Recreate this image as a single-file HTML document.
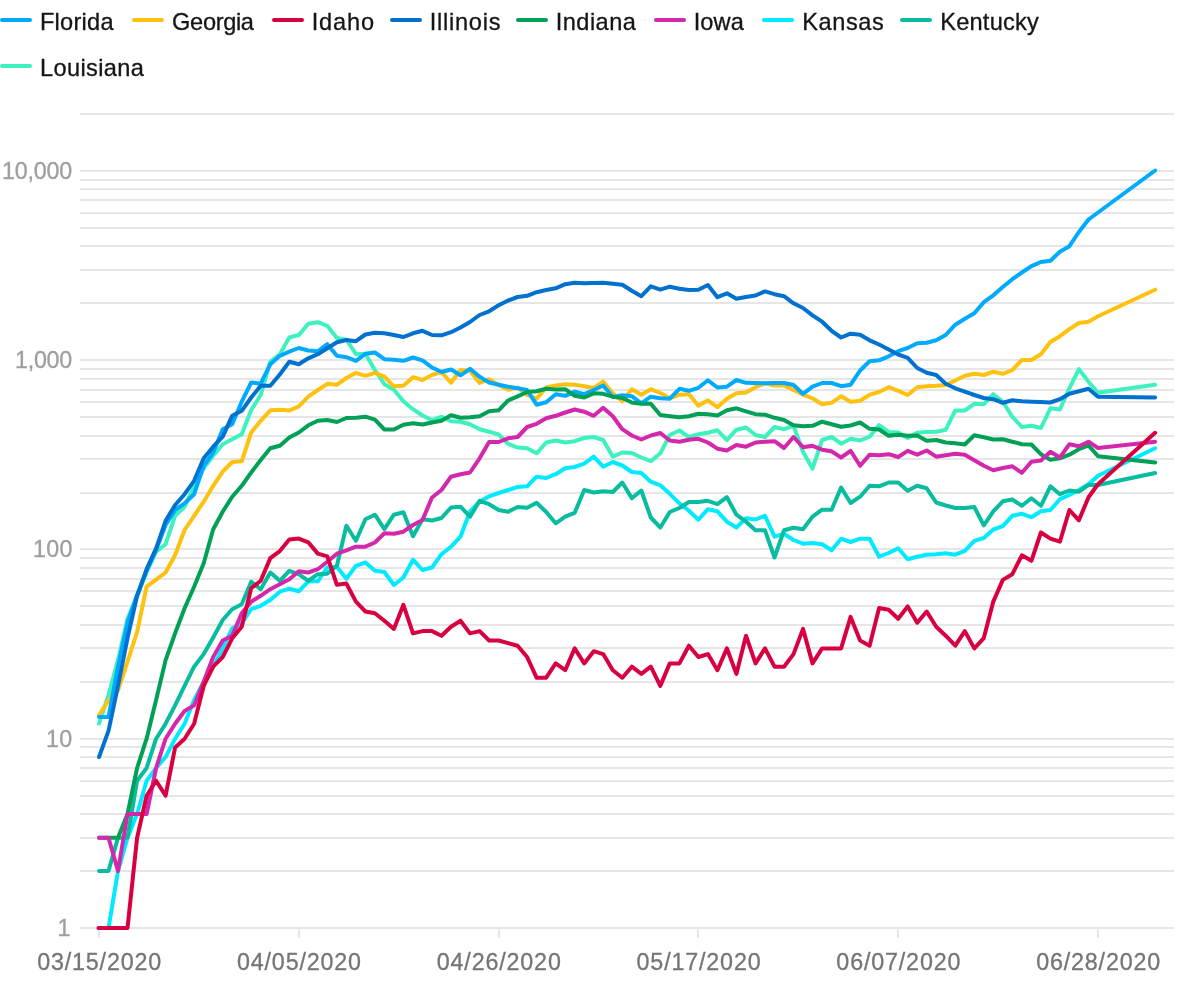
<!DOCTYPE html>
<html><head><meta charset="utf-8"><title>Chart</title>
<style>
html,body{margin:0;padding:0;background:#fff;}
body{width:1200px;height:990px;overflow:hidden;position:relative;font-family:"Liberation Sans",sans-serif;}
svg{position:absolute;left:0;top:0;display:block}
.lg{font-size:23.6px;fill:#151515;stroke:#151515;stroke-width:.3px}
.yl{font-size:23.3px;fill:#9E9E9E;stroke:#9E9E9E;stroke-width:.3px}
.xl{font-size:23.3px;fill:#757575;stroke:#757575;stroke-width:.3px}
.g line{stroke:#E6E6E6;stroke-width:2}
.s polyline{fill:none;stroke-width:4;stroke-linejoin:round;stroke-linecap:round}
.sw line{stroke-width:4;stroke-linecap:round}
</style></head><body>
<svg width="1200" height="990" viewBox="0 0 1200 990">
<g class="g">
<line x1="80" x2="1174" y1="114" y2="114"/>
<line x1="80" x2="1174" y1="171" y2="171"/>
<line x1="80" x2="1174" y1="180" y2="180"/>
<line x1="80" x2="1174" y1="189" y2="189"/>
<line x1="80" x2="1174" y1="200" y2="200"/>
<line x1="80" x2="1174" y1="213" y2="213"/>
<line x1="80" x2="1174" y1="228" y2="228"/>
<line x1="80" x2="1174" y1="246" y2="246"/>
<line x1="80" x2="1174" y1="270" y2="270"/>
<line x1="80" x2="1174" y1="303" y2="303"/>
<line x1="80" x2="1174" y1="360" y2="360"/>
<line x1="80" x2="1174" y1="369" y2="369"/>
<line x1="80" x2="1174" y1="379" y2="379"/>
<line x1="80" x2="1174" y1="390" y2="390"/>
<line x1="80" x2="1174" y1="402" y2="402"/>
<line x1="80" x2="1174" y1="417" y2="417"/>
<line x1="80" x2="1174" y1="436" y2="436"/>
<line x1="80" x2="1174" y1="459" y2="459"/>
<line x1="80" x2="1174" y1="493" y2="493"/>
<line x1="80" x2="1174" y1="549" y2="549"/>
<line x1="80" x2="1174" y1="558" y2="558"/>
<line x1="80" x2="1174" y1="568" y2="568"/>
<line x1="80" x2="1174" y1="579" y2="579"/>
<line x1="80" x2="1174" y1="591" y2="591"/>
<line x1="80" x2="1174" y1="606" y2="606"/>
<line x1="80" x2="1174" y1="625" y2="625"/>
<line x1="80" x2="1174" y1="648" y2="648"/>
<line x1="80" x2="1174" y1="682" y2="682"/>
<line x1="80" x2="1174" y1="739" y2="739"/>
<line x1="80" x2="1174" y1="747" y2="747"/>
<line x1="80" x2="1174" y1="757" y2="757"/>
<line x1="80" x2="1174" y1="768" y2="768"/>
<line x1="80" x2="1174" y1="781" y2="781"/>
<line x1="80" x2="1174" y1="796" y2="796"/>
<line x1="80" x2="1174" y1="814" y2="814"/>
<line x1="80" x2="1174" y1="838" y2="838"/>
<line x1="80" x2="1174" y1="871" y2="871"/>
<line x1="80" x2="1174" y1="928" y2="928"/>
<line x1="99" x2="99" y1="928" y2="938"/>
<line x1="299" x2="299" y1="928" y2="938"/>
<line x1="499" x2="499" y1="928" y2="938"/>
<line x1="698" x2="698" y1="928" y2="938"/>
<line x1="898" x2="898" y1="928" y2="938"/>
<line x1="1098" x2="1098" y1="928" y2="938"/>
</g>
<text class="yl" x="2.0" y="179" textLength="70.27">10,000</text>
<text class="yl" x="14.95" y="368" textLength="57.36">1,000</text>
<text class="yl" x="33.05" y="557" textLength="39.33">100</text>
<text class="yl" x="45.95" y="747" textLength="26.27">10</text>
<text class="yl" x="57.62" y="936">1</text>
<text class="xl" x="37.15" y="970" textLength="124.11">03/15/2020</text>
<text class="xl" x="236.95" y="970" textLength="124.11">04/05/2020</text>
<text class="xl" x="436.75" y="970" textLength="124.11">04/26/2020</text>
<text class="xl" x="636.55" y="970" textLength="124.11">05/17/2020</text>
<text class="xl" x="836.35" y="970" textLength="124.11">06/07/2020</text>
<text class="xl" x="1036.15" y="970" textLength="124.11">06/28/2020</text>
<g class="s">
<polyline stroke="#3DF2BE" points="99.0,723.7 108.5,695.1 118.0,660.1 127.5,618.8 137.1,596.0 146.6,572.0 156.1,551.7 165.6,544.2 175.1,515.8 184.6,506.7 194.1,486.7 203.7,468.3 213.2,455.8 222.7,444.2 232.2,439.2 241.7,434.2 251.2,410.0 260.7,395.0 270.3,361.7 279.8,354.2 289.3,337.5 298.8,335.0 308.3,323.8 317.8,322.2 327.3,325.8 336.9,338.0 346.4,339.7 355.9,354.2 365.4,353.7 374.9,370.0 384.4,384.2 393.9,389.7 403.4,401.3 413.0,409.2 422.5,415.5 432.0,420.3 441.5,416.7 451.0,421.3 460.5,421.7 470.0,424.2 479.6,429.2 489.1,431.7 498.6,434.5 508.1,443.8 517.6,447.5 527.1,448.3 536.6,453.3 546.2,442.5 555.7,440.5 565.2,442.5 574.7,441.2 584.2,438.0 593.7,437.0 603.2,440.0 612.8,456.7 622.3,452.5 631.8,453.0 641.3,457.5 650.8,461.2 660.3,453.3 669.8,435.0 679.4,430.5 688.9,437.0 698.4,434.2 707.9,432.8 717.4,430.3 726.9,440.0 736.4,429.7 746.0,427.5 755.5,435.0 765.0,437.0 774.5,427.0 784.0,429.2 793.5,425.8 803.0,451.7 812.5,468.7 822.1,440.0 831.6,437.0 841.1,443.7 850.6,438.7 860.1,440.5 869.6,436.7 879.1,425.0 888.7,432.0 898.2,432.5 907.7,438.0 917.2,432.8 926.7,432.0 936.2,431.7 945.7,429.7 955.3,410.5 964.8,410.5 974.3,403.8 983.8,404.2 993.3,394.2 1002.8,401.7 1012.3,416.7 1021.9,427.0 1031.4,425.8 1040.9,428.0 1050.4,408.3 1059.9,409.5 1069.4,388.3 1078.9,369.2 1088.5,381.7 1098.0,392.8 1155.1,384.7"/>
<polyline stroke="#00EBFF" points="108.5,928.0 118.0,871.0 127.5,837.7 137.1,814.0 146.6,780.7 156.1,768.0 165.6,757.0 175.1,738.7 184.6,723.7 194.1,700.1 203.7,681.7 213.2,666.7 222.7,648.4 232.2,628.3 241.7,623.3 251.2,609.2 260.7,605.8 270.3,600.0 279.8,591.7 289.3,588.7 298.8,591.3 308.3,581.3 317.8,581.3 327.3,567.5 336.9,566.7 346.4,578.7 355.9,565.8 365.4,562.5 374.9,570.8 384.4,572.0 393.9,585.0 403.4,577.5 413.0,559.7 422.5,570.0 432.0,567.5 441.5,554.2 451.0,546.7 460.5,536.7 470.0,511.3 479.6,501.7 489.1,496.3 498.6,493.0 508.1,490.0 517.6,487.0 527.1,486.3 536.6,476.7 546.2,478.0 555.7,474.2 565.2,468.3 574.7,467.0 584.2,463.7 593.7,456.7 603.2,466.7 612.8,462.0 622.3,465.5 631.8,472.0 641.3,473.0 650.8,481.7 660.3,485.3 669.8,493.8 679.4,503.3 688.9,510.8 698.4,519.7 707.9,509.2 717.4,511.3 726.9,521.7 736.4,527.5 746.0,518.3 755.5,519.5 765.0,515.8 774.5,536.7 784.0,533.8 793.5,540.0 803.0,543.7 812.5,543.0 822.1,544.2 831.6,550.3 841.1,538.7 850.6,542.0 860.1,538.7 869.6,538.7 879.1,556.7 888.7,553.0 898.2,548.3 907.7,559.2 917.2,556.7 926.7,554.7 936.2,554.2 945.7,553.3 955.3,554.7 964.8,550.8 974.3,540.8 983.8,538.0 993.3,529.5 1002.8,526.2 1012.3,515.8 1021.9,513.8 1031.4,517.2 1040.9,511.3 1050.4,510.0 1059.9,499.2 1069.4,495.0 1078.9,490.0 1088.5,484.2 1098.0,475.8 1155.1,448.3"/>
<polyline stroke="#08BCA0" points="99.0,871.0 108.5,871.0 118.0,837.7 127.5,837.7 137.1,780.7 146.6,768.0 156.1,738.7 165.6,723.7 175.1,705.4 184.6,685.9 194.1,666.7 203.7,654.1 213.2,637.5 222.7,620.0 232.2,609.2 241.7,604.2 251.2,581.7 260.7,589.2 270.3,572.5 279.8,580.8 289.3,570.8 298.8,574.2 308.3,580.8 317.8,574.2 327.3,573.7 336.9,565.8 346.4,525.8 355.9,540.8 365.4,519.2 374.9,514.7 384.4,529.2 393.9,514.7 403.4,512.2 413.0,536.3 422.5,519.2 432.0,520.5 441.5,518.0 451.0,507.5 460.5,506.7 470.0,516.7 479.6,500.8 489.1,504.2 498.6,510.0 508.1,511.7 517.6,507.0 527.1,507.8 536.6,502.8 546.2,512.0 555.7,523.3 565.2,516.7 574.7,512.8 584.2,490.0 593.7,492.5 603.2,491.2 612.8,492.0 622.3,482.5 631.8,498.3 641.3,490.5 650.8,517.5 660.3,527.5 669.8,512.0 679.4,508.0 688.9,502.0 698.4,502.0 707.9,500.8 717.4,504.2 726.9,497.2 736.4,514.7 746.0,521.7 755.5,530.3 765.0,530.3 774.5,557.5 784.0,530.3 793.5,527.8 803.0,529.2 812.5,516.7 822.1,509.7 831.6,509.7 841.1,487.5 850.6,503.0 860.1,496.7 869.6,485.8 879.1,486.3 888.7,482.5 898.2,482.5 907.7,490.8 917.2,485.8 926.7,488.3 936.2,502.5 945.7,505.5 955.3,508.0 964.8,508.0 974.3,507.0 983.8,525.3 993.3,511.3 1002.8,501.3 1012.3,499.5 1021.9,505.8 1031.4,498.3 1040.9,505.8 1050.4,486.3 1059.9,494.2 1069.4,490.5 1078.9,491.7 1088.5,485.0 1098.0,485.0 1155.1,473.0"/>
<polyline stroke="#FFC10F" points="99.0,715.3 108.5,700.1 118.0,690.4 127.5,661.7 137.1,632.0 146.6,586.7 156.1,579.6 165.6,572.5 175.1,555.0 184.6,530.0 194.1,515.8 203.7,501.7 213.2,485.8 222.7,471.7 232.2,462.0 241.7,461.3 251.2,432.5 260.7,420.8 270.3,410.3 279.8,409.7 289.3,410.5 298.8,406.3 308.3,396.7 317.8,390.0 327.3,383.8 336.9,384.7 346.4,378.0 355.9,372.8 365.4,375.8 374.9,372.8 384.4,376.7 393.9,386.3 403.4,385.8 413.0,377.2 422.5,380.0 432.0,375.0 441.5,372.0 451.0,382.8 460.5,370.0 470.0,370.8 479.6,383.0 489.1,379.2 498.6,385.0 508.1,389.7 517.6,387.5 527.1,395.0 536.6,398.7 546.2,387.5 555.7,385.5 565.2,384.2 574.7,384.7 584.2,386.2 593.7,388.0 603.2,381.7 612.8,393.3 622.3,401.3 631.8,389.2 641.3,394.7 650.8,389.2 660.3,393.0 669.8,398.3 679.4,394.7 688.9,394.2 698.4,405.8 707.9,400.3 717.4,407.2 726.9,398.8 736.4,393.3 746.0,392.5 755.5,387.2 765.0,383.3 774.5,385.5 784.0,385.5 793.5,390.0 803.0,394.7 812.5,398.3 822.1,404.2 831.6,402.8 841.1,396.2 850.6,401.7 860.1,400.8 869.6,394.7 879.1,392.0 888.7,387.2 898.2,390.8 907.7,395.0 917.2,387.2 926.7,386.2 936.2,385.8 945.7,385.0 955.3,380.5 964.8,375.8 974.3,373.8 983.8,375.0 993.3,371.7 1002.8,373.8 1012.3,370.0 1021.9,360.0 1031.4,360.0 1040.9,354.2 1050.4,342.0 1059.9,336.2 1069.4,329.2 1078.9,323.0 1088.5,321.7 1098.0,316.3 1155.1,289.7"/>
<polyline stroke="#00AAFF" points="99.0,717.1 108.5,717.1 118.0,666.7 127.5,622.7 137.1,595.0 146.6,571.0 156.1,550.0 165.6,525.0 175.1,510.0 184.6,503.3 194.1,494.2 203.7,465.8 213.2,452.5 222.7,429.2 232.2,424.2 241.7,401.7 251.2,382.5 260.7,383.7 270.3,364.2 279.8,355.8 289.3,351.7 298.8,348.0 308.3,350.5 317.8,351.3 327.3,344.2 336.9,355.8 346.4,357.2 355.9,360.8 365.4,353.8 374.9,352.5 384.4,359.2 393.9,359.7 403.4,360.8 413.0,357.5 422.5,360.3 432.0,367.5 441.5,372.0 451.0,369.5 460.5,375.3 470.0,368.8 479.6,376.7 489.1,382.5 498.6,384.7 508.1,386.7 517.6,388.3 527.1,390.0 536.6,404.7 546.2,402.2 555.7,394.2 565.2,395.8 574.7,391.7 584.2,394.2 593.7,390.0 603.2,385.5 612.8,397.0 622.3,395.3 631.8,396.2 641.3,403.3 650.8,396.7 660.3,398.3 669.8,398.7 679.4,388.8 688.9,390.8 698.4,387.8 707.9,380.3 717.4,387.5 726.9,386.7 736.4,380.0 746.0,382.8 755.5,383.0 765.0,383.3 774.5,383.0 784.0,383.0 793.5,385.0 803.0,393.8 812.5,386.7 822.1,383.0 831.6,383.0 841.1,386.2 850.6,384.7 860.1,370.5 869.6,361.3 879.1,360.3 888.7,356.3 898.2,351.2 907.7,348.0 917.2,343.3 926.7,342.8 936.2,340.3 945.7,335.0 955.3,324.7 964.8,318.7 974.3,313.3 983.8,302.2 993.3,295.3 1002.8,287.0 1012.3,279.2 1021.9,272.5 1031.4,266.2 1040.9,262.0 1050.4,260.8 1059.9,251.7 1069.4,246.2 1078.9,232.0 1088.5,219.5 1155.1,170.5"/>
<polyline stroke="#0071CF" points="99.0,757.0 108.5,730.9 118.0,685.9 127.5,638.1 137.1,595.8 146.6,569.2 156.1,548.3 165.6,520.8 175.1,505.0 184.6,494.2 194.1,480.8 203.7,458.3 213.2,446.7 222.7,436.7 232.2,415.8 241.7,410.8 251.2,397.5 260.7,385.8 270.3,385.8 279.8,374.5 289.3,361.7 298.8,364.2 308.3,358.3 317.8,354.2 327.3,348.3 336.9,342.2 346.4,340.0 355.9,341.2 365.4,334.5 374.9,332.8 384.4,333.3 393.9,335.0 403.4,337.0 413.0,333.3 422.5,330.8 432.0,335.0 441.5,335.3 451.0,332.2 460.5,327.5 470.0,322.0 479.6,315.0 489.1,311.3 498.6,305.3 508.1,300.5 517.6,297.0 527.1,295.8 536.6,292.2 546.2,290.0 555.7,288.3 565.2,284.2 574.7,282.8 584.2,283.3 593.7,283.0 603.2,282.7 612.8,283.8 622.3,284.7 631.8,290.8 641.3,296.2 650.8,286.3 660.3,289.7 669.8,286.7 679.4,288.8 688.9,290.0 698.4,289.7 707.9,285.0 717.4,297.2 726.9,293.3 736.4,298.8 746.0,297.0 755.5,295.5 765.0,291.3 774.5,294.2 784.0,296.2 793.5,303.3 803.0,308.0 812.5,315.3 822.1,321.7 831.6,330.8 841.1,337.5 850.6,333.7 860.1,334.7 869.6,340.3 879.1,344.5 888.7,349.5 898.2,354.5 907.7,357.8 917.2,368.0 926.7,372.8 936.2,375.0 945.7,383.8 955.3,388.3 964.8,391.7 974.3,395.0 983.8,398.0 993.3,399.2 1002.8,402.8 1012.3,400.3 1021.9,401.3 1031.4,401.7 1040.9,402.0 1050.4,402.5 1059.9,399.2 1069.4,393.8 1078.9,391.3 1088.5,388.8 1098.0,396.7 1155.1,397.5"/>
<polyline stroke="#00A056" points="99.0,837.7 108.5,837.7 118.0,837.7 127.5,814.0 137.1,768.0 146.6,738.7 156.1,700.1 165.6,660.1 175.1,633.3 184.6,608.3 194.1,586.7 203.7,563.3 213.2,529.2 222.7,511.7 232.2,496.7 241.7,485.8 251.2,472.5 260.7,460.0 270.3,448.3 279.8,445.8 289.3,437.5 298.8,432.5 308.3,425.3 317.8,420.8 327.3,420.0 336.9,422.0 346.4,418.0 355.9,417.8 365.4,416.7 374.9,419.7 384.4,429.5 393.9,429.5 403.4,424.7 413.0,423.3 422.5,424.5 432.0,422.5 441.5,420.8 451.0,415.3 460.5,417.8 470.0,417.2 479.6,416.3 489.1,411.3 498.6,410.3 508.1,400.5 517.6,396.3 527.1,392.0 536.6,391.2 546.2,388.7 555.7,389.5 565.2,389.2 574.7,395.8 584.2,397.5 593.7,393.3 603.2,393.8 612.8,396.7 622.3,398.0 631.8,402.5 641.3,403.8 650.8,403.7 660.3,415.0 669.8,416.2 679.4,417.2 688.9,416.2 698.4,413.7 707.9,414.2 717.4,415.5 726.9,410.3 736.4,408.3 746.0,411.3 755.5,414.2 765.0,414.7 774.5,417.8 784.0,420.0 793.5,425.3 803.0,426.3 812.5,425.8 822.1,421.7 831.6,424.2 841.1,426.7 850.6,425.5 860.1,422.5 869.6,428.8 879.1,429.5 888.7,435.8 898.2,434.7 907.7,435.8 917.2,435.5 926.7,440.8 936.2,440.0 945.7,442.5 955.3,443.3 964.8,444.5 974.3,435.3 983.8,437.2 993.3,439.5 1002.8,439.2 1012.3,441.7 1021.9,444.2 1031.4,444.5 1040.9,454.2 1050.4,459.7 1059.9,458.3 1069.4,454.7 1078.9,449.2 1088.5,445.5 1098.0,456.2 1155.1,462.5"/>
<polyline stroke="#D428AC" points="99.0,837.7 108.5,837.7 118.0,871.0 127.5,814.0 137.1,814.0 146.6,814.0 156.1,768.0 165.6,738.7 175.1,723.7 184.6,711.0 194.1,705.4 203.7,681.7 213.2,657.0 222.7,640.5 232.2,635.8 241.7,613.3 251.2,601.7 260.7,595.8 270.3,589.2 279.8,584.2 289.3,579.2 298.8,571.3 308.3,572.5 317.8,569.2 327.3,561.7 336.9,553.7 346.4,550.3 355.9,546.7 365.4,546.7 374.9,542.5 384.4,533.3 393.9,533.7 403.4,531.7 413.0,525.0 422.5,520.0 432.0,497.5 441.5,490.0 451.0,476.7 460.5,474.2 470.0,472.5 479.6,458.3 489.1,442.0 498.6,442.0 508.1,438.3 517.6,437.0 527.1,427.0 536.6,423.8 546.2,418.3 555.7,415.8 565.2,412.5 574.7,409.5 584.2,411.7 593.7,415.8 603.2,407.8 612.8,416.2 622.3,429.2 631.8,435.5 641.3,439.5 650.8,435.5 660.3,433.0 669.8,440.5 679.4,441.7 688.9,439.7 698.4,438.8 707.9,442.5 717.4,448.7 726.9,450.5 736.4,445.0 746.0,446.7 755.5,442.5 765.0,441.7 774.5,441.2 784.0,448.0 793.5,437.0 803.0,447.2 812.5,445.8 822.1,449.7 831.6,451.3 841.1,457.5 850.6,450.8 860.1,465.8 869.6,454.7 879.1,455.3 888.7,454.2 898.2,457.0 907.7,450.8 917.2,454.7 926.7,450.5 936.2,456.7 945.7,455.3 955.3,453.7 964.8,454.7 974.3,460.3 983.8,465.8 993.3,470.3 1002.8,468.0 1012.3,466.3 1021.9,472.8 1031.4,461.7 1040.9,460.5 1050.4,451.7 1059.9,457.5 1069.4,444.2 1078.9,446.3 1088.5,441.7 1098.0,448.0 1155.1,441.7"/>
<circle cx="98.4" cy="928" r="2" fill="#A42BB4"/>
<polyline stroke="#D80041" points="99.0,928.0 108.5,928.0 118.0,928.0 127.5,928.0 137.1,837.7 146.6,795.7 156.1,780.7 165.6,795.7 175.1,747.4 184.6,738.7 194.1,723.7 203.7,685.9 213.2,666.7 222.7,657.0 232.2,638.3 241.7,626.7 251.2,588.3 260.7,580.8 270.3,558.1 279.8,551.1 289.3,539.4 298.8,538.6 308.3,542.3 317.8,553.6 327.3,556.3 336.9,584.8 346.4,583.6 355.9,601.6 365.4,611.5 374.9,613.2 384.4,620.7 393.9,628.9 403.4,604.8 413.0,633.4 422.5,631.1 432.0,631.1 441.5,635.7 451.0,626.8 460.5,620.7 470.0,633.4 479.6,631.1 489.1,640.5 498.6,640.5 508.1,643.1 517.6,645.7 527.1,657.0 536.6,677.7 546.2,677.7 555.7,663.4 565.2,670.2 574.7,648.4 584.2,663.4 593.7,651.2 603.2,654.1 612.8,670.2 622.3,677.7 631.8,666.7 641.3,673.9 650.8,666.7 660.3,685.9 669.8,663.4 679.4,663.4 688.9,645.7 698.4,657.0 707.9,654.1 717.4,670.2 726.9,648.4 736.4,673.9 746.0,635.7 755.5,663.4 765.0,648.4 774.5,666.7 784.0,666.7 793.5,654.1 803.0,628.9 812.5,663.4 822.1,648.4 831.6,648.4 841.1,648.4 850.6,616.9 860.1,640.5 869.6,645.7 879.1,608.0 888.7,609.7 898.2,618.8 907.7,606.4 917.2,622.7 926.7,611.5 936.2,626.8 945.7,635.7 955.3,645.7 964.8,631.1 974.3,648.4 983.8,638.1 993.3,601.6 1002.8,579.9 1012.3,574.2 1021.9,555.3 1031.4,560.8 1040.9,532.5 1050.4,538.7 1059.9,541.7 1069.4,510.0 1078.9,520.3 1088.5,497.2 1098.0,484.2 1155.1,432.8"/>
</g>
<g class="sw">
<line stroke="#00AAFF" x1="2" x2="30" y1="20" y2="20"/>
<line stroke="#FFC10F" x1="134" x2="162" y1="20" y2="20"/>
<line stroke="#D80041" x1="274" x2="302" y1="20" y2="20"/>
<line stroke="#0071CF" x1="392" x2="420" y1="20" y2="20"/>
<line stroke="#00A056" x1="518" x2="546" y1="20" y2="20"/>
<line stroke="#D428AC" x1="656" x2="684" y1="20" y2="20"/>
<line stroke="#00EBFF" x1="764" x2="792" y1="20" y2="20"/>
<line stroke="#08BCA0" x1="902" x2="930" y1="20" y2="20"/>
<line stroke="#3DF2BE" x1="2" x2="30" y1="66" y2="66"/>
</g>
<text class="lg" x="39.95" y="30" textLength="73.55">Florida</text>
<text class="lg" x="172.1" y="30" textLength="81.85">Georgia</text>
<text class="lg" x="311.75" y="30" textLength="62.25">Idaho</text>
<text class="lg" x="429.7" y="30" textLength="70.73">Illinois</text>
<text class="lg" x="555.7" y="30" textLength="80.21">Indiana</text>
<text class="lg" x="693.7" y="30" textLength="50.14">Iowa</text>
<text class="lg" x="802.15" y="30" textLength="81.73">Kansas</text>
<text class="lg" x="940.15" y="30" textLength="98.74">Kentucky</text>
<text class="lg" x="40.05" y="76" textLength="103.72">Louisiana</text>
</svg></body></html>
